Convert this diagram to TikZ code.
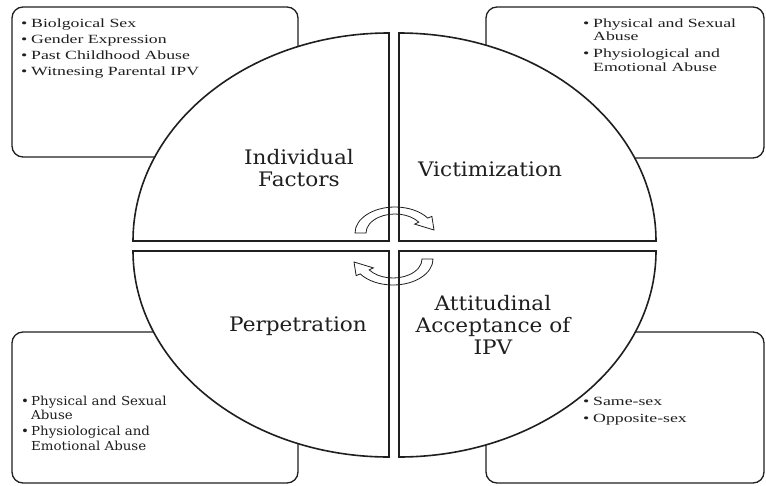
\documentclass[tikz,border=0pt]{standalone}
\usepackage{fontspec}
\newfontfamily\listfont[FakeStretch=1.42]{Liberation Serif}
\newfontfamily\labfont[FakeStretch=1.08]{DejaVu Serif}
\newcommand{\myb}{\makebox[10pt][l]{•}}
\newcommand{\myi}{\hspace*{10pt}}
\definecolor{ink}{gray}{0.12}
\tikzset{
  boxshape/.style={draw=ink, line width=1.3pt, fill=white, rounded corners=11pt},
  quad/.style={draw=ink, line width=1.6pt, fill=white},
  cyc/.style={draw=ink, line width=0.8pt},
  listtxt/.style={inner sep=0pt, anchor=north west, align=left, text=ink,
     font=\listfont\fontsize{12.5}{13.5}\selectfont},
  bltxt/.style={inner sep=0pt, anchor=north west, align=left, text=ink,
     font=\labfont\fontsize{12.4}{14.5}\selectfont},
  labtxt/.style={inner sep=0pt, align=center, text=ink,
     font=\labfont\fontsize{20}{22}\selectfont}
}
\begin{document}
\begin{tikzpicture}[x=1pt,y=-1pt]
\useasboundingbox (0,0) rectangle (766,485);
% outer boxes
\draw[boxshape] (12,7) rectangle (298,157);
\draw[boxshape] (486,7) rectangle (764,158);
\draw[boxshape] (12,332) rectangle (298,483);
\draw[boxshape] (486,332) rectangle (764,483);
% quadrants
\draw[quad] (389,241) -- (133,241) arc[start angle=180,end angle=270,x radius=256,y radius=208] -- cycle;
\draw[quad] (399,241) -- (399,33) arc[start angle=270,end angle=360,x radius=257,y radius=208] -- cycle;
\draw[quad] (389,251) -- (133,251) arc[start angle=180,end angle=90,x radius=256,y radius=206] -- cycle;
\draw[quad] (399,251) -- (656,251) arc[start angle=0,end angle=90,x radius=257,y radius=206] -- cycle;
% cycle arrows
\begin{scope}[shift={(395,233)}]
\draw[cyc] (180:40 and 26) arc[start angle=180,end angle=325,x radius=40,y radius=26]
  -- (325:45 and 29) -- (39,-3) -- (325:24 and 15.5) -- (325:29 and 19)
  arc[start angle=325,end angle=180,x radius=29,y radius=19] -- cycle;
\end{scope}
\begin{scope}[shift={(393,259)},rotate=180]
\draw[cyc] (180:40 and 26) arc[start angle=180,end angle=325,x radius=40,y radius=26]
  -- (325:45 and 29) -- (39,-3) -- (325:24 and 15.5) -- (325:29 and 19)
  arc[start angle=325,end angle=180,x radius=29,y radius=19] -- cycle;
\end{scope}
% quadrant labels
\node[labtxt] (indiv) at (299,168) {Individual\\Factors};
\node[labtxt] (victim) at (490,169) {Victimization};
\node[labtxt] (perp) at (298,326) {Perpetration};
\node[labtxt] (attit) at (493,325) {Attitudinal\\Acceptance of\\IPV};
% box texts
\node[listtxt] (tltxt) at (21,19) {\myb Biolgoical Sex\\[2.5pt]\myb Gender Expression\\[2.5pt]\myb Past Childhood Abuse\\[2.5pt]\myb Witnesing Parental IPV};
\node[listtxt] (trtxt) at (583,18.5) {\myb Physical and Sexual\\\myi Abuse\\[3.5pt]\myb Physiological and\\\myi Emotional Abuse};
\node[bltxt] (bltxt) at (21,395.5) {\myb Physical and Sexual\\\myi Abuse\\[1.5pt]\myb Physiological and\\\myi Emotional Abuse};
\node[listtxt] (brtxt) at (583,397) {\myb Same-sex\\[3.5pt]\myb Opposite-sex};
\end{tikzpicture}
\end{document}
